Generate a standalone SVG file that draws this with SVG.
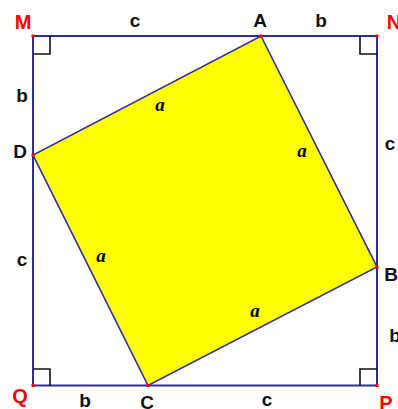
<svg xmlns="http://www.w3.org/2000/svg" width="398" height="409" viewBox="0 0 398 409">
<style>
.lbl{font-family:"Liberation Sans",Arial,sans-serif;font-weight:bold;font-size:19px;fill:#111;text-anchor:middle}
.pt{font-family:"Liberation Sans",Arial,sans-serif;font-weight:bold;font-size:20px;fill:#ff0000;text-anchor:middle}
.a{font-family:"Liberation Serif","Times New Roman",serif;font-weight:bold;font-style:italic;font-size:19px;fill:#000;text-anchor:middle}
.side{stroke:#2e2e9e;stroke-width:2;fill:none}
.ra{stroke:#111;stroke-width:1.6;fill:none}
.dot{fill:#ff0000}
</style>
<rect width="398" height="409" fill="#fff"/>
<g id="inner-square">
<polygon points="261,36 377,267 148,385.5 33,155" fill="#ffff00" stroke="#2e2e9e" stroke-width="1.6"/>
</g>
<g id="connectors">
<rect class="side" x="33" y="36" width="344" height="349.5"/>
<path class="ra" d="M33,54 H50 V36"/>
<path class="ra" d="M360,36 V54 H377"/>
<path class="ra" d="M33,369 H50 V385.5"/>
<path class="ra" d="M360,385.5 V369 H377"/>
</g>
<g id="M"><rect class="dot" x="31.5" y="34.5" width="3" height="3"/><text class="pt" x="23" y="29">M</text></g>
<g id="N"><rect class="dot" x="375.5" y="34.5" width="3" height="3"/><text class="pt" x="394" y="29">N</text></g>
<g id="A"><rect class="dot" x="259.5" y="34.5" width="3" height="3"/><text class="lbl" x="260" y="27">A</text></g>
<g id="D"><rect class="dot" x="31.5" y="153.5" width="3" height="3"/><text class="lbl" x="20" y="158">D</text></g>
<g id="B"><rect class="dot" x="375.5" y="265.5" width="3" height="3"/><text class="lbl" x="391" y="281">B</text></g>
<g id="C"><rect class="dot" x="146.5" y="384" width="3" height="3"/><text class="lbl" x="147" y="409">C</text></g>
<g id="Q"><rect class="dot" x="31.5" y="384" width="3" height="3"/><text class="pt" x="20" y="403">Q</text></g>
<g id="P"><rect class="dot" x="375.5" y="384" width="3" height="3"/><text class="pt" x="386" y="410">P</text></g>
<g id="labels">
<text class="lbl" x="135" y="27">c</text>
<text class="lbl" x="321" y="27">b</text>
<text class="lbl" x="22" y="102">b</text>
<text class="lbl" x="22" y="266">c</text>
<text class="lbl" x="390" y="150">c</text>
<text class="lbl" x="395" y="342">b</text>
<text class="lbl" x="85" y="407">b</text>
<text class="lbl" x="267" y="406">c</text>
<text class="a" x="160" y="111">a</text>
<text class="a" x="302" y="157">a</text>
<text class="a" x="101" y="262">a</text>
<text class="a" x="255" y="317">a</text>
</g>
</svg>
